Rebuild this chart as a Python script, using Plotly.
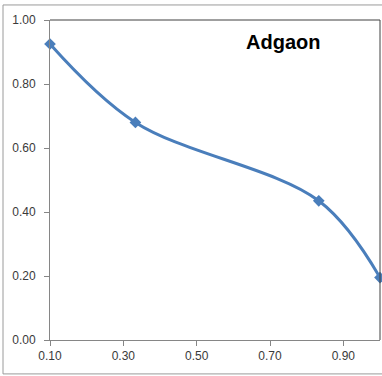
import plotly.graph_objects as go

# Adgaon curve points
x_vals = [0.10, 0.333, 0.833, 1.00]
y_vals = [0.925, 0.680, 0.435, 0.195]

x_ticks = [0.10, 0.30, 0.50, 0.70, 0.90]
y_ticks = [0.00, 0.20, 0.40, 0.60, 0.80, 1.00]
title_text = "Adgaon"

line_color = "#4a7ebb"
tick_font = dict(family="Liberation Sans, Arial, sans-serif", size=12, color="#3a3a3a")

fig = go.Figure()
fig.add_trace(go.Scatter(
    x=x_vals, y=y_vals,
    mode="lines+markers",
    line=dict(color=line_color, width=3, shape="spline", smoothing=1.0),
    marker=dict(symbol="diamond", size=9, color=line_color),
    cliponaxis=False,
    showlegend=False,
))

fig.update_xaxes(
    range=[0.10, 1.00],
    tickvals=x_ticks,
    ticktext=[f"{v:.2f}" for v in x_ticks],
    showgrid=False, zeroline=False,
    showline=True, linecolor="#868686", linewidth=1,
    ticks="outside", ticklen=5, tickcolor="#868686",
    tickfont=tick_font,
)
fig.update_yaxes(
    range=[0.00, 1.00],
    tickvals=y_ticks,
    ticktext=[f"{v:.2f}" for v in y_ticks],
    showgrid=False, zeroline=False,
    showline=True, linecolor="#868686", linewidth=1,
    ticks="outside", ticklen=5, tickcolor="#868686",
    tickfont=tick_font,
    ticklabelstandoff=6,
)

shapes = [
    # outer chart frame
    dict(type="rect", xref="paper", yref="paper",
         x0=-0.1424, x1=1.2, y0=-0.106, y1=1.047,
         line=dict(color="#9a9a9a", width=1), fillcolor="rgba(0,0,0,0)", layer="below"),
    # plot frame top and right edges
    dict(type="line", xref="paper", yref="paper", x0=0, x1=1, y0=1, y1=1,
         line=dict(color="#404040", width=1)),
    dict(type="line", xref="paper", yref="paper", x0=1, x1=1, y0=0, y1=1,
         line=dict(color="#404040", width=1)),
]

fig.update_layout(
    width=382, height=376,
    margin=dict(l=50, r=2, t=20, b=36),
    paper_bgcolor="white", plot_bgcolor="white",
    shapes=shapes,
    annotations=[dict(
        text=f"<b>{title_text}</b>", xref="paper", yref="paper",
        x=0.705, y=0.931, xanchor="center", yanchor="middle",
        showarrow=False,
        font=dict(family="Liberation Sans, Arial, sans-serif", size=20, color="#000000"),
    )],
)

fig.write_html("out.html")
